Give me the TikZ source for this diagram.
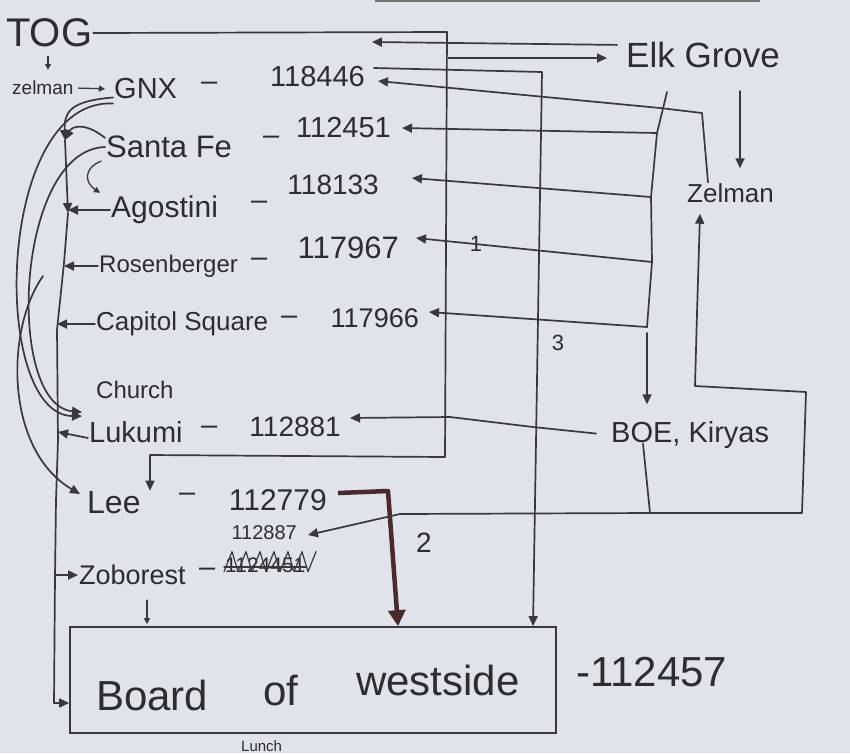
\documentclass[tikz,border=0pt]{standalone}
\usepackage{fontspec}
\setmainfont{Liberation Sans}
\usetikzlibrary{arrows.meta}
\definecolor{paper}{HTML}{E0E3E9}
\definecolor{ink}{HTML}{38383D}
\definecolor{penink}{HTML}{2C2C31}
\definecolor{brownink}{HTML}{4A2A2C}
\newcommand\pensize[1]{\fontsize{#1pt}{#1pt}\selectfont}
\begin{document}
\begin{tikzpicture}[x=1pt,y=-1pt,
  every node/.style={text=penink, inner sep=1pt},
  txt/.style={anchor=west},
  num/.style={anchor=east},
  wire/.style={draw=ink, line width=1.7pt, line join=round, line cap=round},
  arr/.style={wire, -{Triangle[length=10pt,width=9pt]}},
  smallarr/.style={wire, line width=1.3pt, -{Triangle[length=6pt,width=6pt]}},
  twoway/.style={wire, {Triangle[length=10pt,width=9pt]}-{Triangle[length=10pt,width=9pt]}},
  heavy/.style={draw=brownink, line width=4.5pt, line join=round, -{Triangle[length=16pt,width=17pt]}},
  boardbox/.style={draw=ink, line width=1.7pt, minimum width=486pt, minimum height=106pt, inner sep=0pt}]

% paper
\fill[paper] (0,0) rectangle (850,753);
\useasboundingbox (0,0) rectangle (850,753);
\fill[black!55] (375,0) rectangle (760,1.5);

% ---------- labels ----------
\node[txt, font=\pensize{40}] (tog) at (5,33) {TOG};
\node[txt, font=\pensize{19}] (zelA) at (11,88) {zelman};
\node[txt, font=\pensize{29}] (gnx) at (113,89) {GNX};
\node[txt, font=\pensize{29}] (d1) at (200,86) {–};
\node[num, font=\pensize{29}] (n118446) at (366,77) {118446};

\node[txt, font=\pensize{31}] (santafe) at (105,147) {Santa Fe};
\node[txt, font=\pensize{29}] (d2) at (262,140) {–};
\node[num, font=\pensize{29}] (n112451) at (392,128) {112451};

\node[txt, font=\pensize{30}] (agostini) at (110,210) {Agostini};
\node[txt, font=\pensize{29}] (d3) at (250,205) {–};
\node[num, font=\pensize{28}] (n118133) at (380,185) {118133};

\node[txt, font=\pensize{24}] (rosen) at (98,266) {Rosenberger};
\node[txt, font=\pensize{29}] (d4) at (250,262) {–};
\node[num, font=\pensize{31}] (n117967) at (400,248) {117967};

\node[txt, font=\pensize{26}] (capitol) at (95,324) {Capitol Square};
\node[txt, font=\pensize{29}] (d5) at (280,320) {–};
\node[num, font=\pensize{27}] (n117966) at (420,318) {117966};

\node[txt, font=\pensize{24}] (church) at (95,390) {Church};
\node[txt, font=\pensize{29}] (lukumi) at (88,432) {Lukumi};
\node[txt, font=\pensize{29}] (d6) at (200,430) {–};
\node[num, font=\pensize{28}] (n112881) at (342,427) {112881};

\node[txt, font=\pensize{32}] (lee) at (86,503) {Lee};
\node[txt, font=\pensize{29}] (d7) at (178,497) {–};
\node[num, font=\pensize{30}] (n112779) at (328,500) {112779};
\node[num, font=\pensize{20}] (n112887) at (298,533) {112887};

\node[txt, font=\pensize{27}] (zoborest) at (78,575) {Zoborest};
\node[txt, font=\pensize{29}] (d8) at (198,572) {–};
\node[txt, font=\pensize{21}] (struck) at (224,565) {1124451};

\node[boardbox] (board) at (313,680) {};
\node[txt, font=\pensize{42}] (wBoard) at (95,695) {Board};
\node[txt, font=\pensize{42}] (wOf) at (262,690) {of};
\node[txt, font=\pensize{42}] (wWest) at (355,680) {westside};
\node[txt, font=\pensize{42}] (price) at (575,672) {-112457};

\node[txt, font=\pensize{35}] (elk) at (625,55) {Elk Grove};
\node[txt, font=\pensize{26}] (zelB) at (686,193) {Zelman};
\node[txt, font=\pensize{29}] (boe) at (610,435) {BOE, Kiryas};

\node[font=\pensize{22}] (three) at (558,343) {3};
\node[font=\pensize{28}] (two) at (424,543) {2};
\node[font=\pensize{22}] (one) at (476,244) {1};
\node[anchor=base west, font=\pensize{15}] (lunch) at (240,751) {Lunch};

% ---------- helper points ----------
\coordinate (tA) at (447,32);
\coordinate (tB) at (445,457);
\coordinate (tC) at (150,455);
\coordinate (tE) at (448,58);
\coordinate (eTip) at (372,42);
\coordinate (b1) at (542,72);
\coordinate (b3) at (533,0);
\coordinate (z1) at (702,113);
\coordinate (z2) at (660,108);
\coordinate (r0) at (667,92);
\coordinate (r1) at (657,133);
\coordinate (r2) at (651,197);
\coordinate (r3) at (652,262);
\coordinate (r4) at (647,327);
\coordinate (ez) at (740,0);
\coordinate (q1) at (400,514);
\coordinate (q2) at (650,513);
\coordinate (q3) at (802,513);
\coordinate (q4) at (806,392);
\coordinate (q5) at (695,386);
\coordinate (q6) at (697,313);
\coordinate (h1) at (388,491);
\coordinate (h2) at (398,0);
\coordinate (k2) at (65,140);
\coordinate (k3) at (68,213);
\coordinate (k4) at (64,263);
\coordinate (k5) at (57,330);
\coordinate (k6) at (58,440);
\coordinate (k7) at (56,500);
\coordinate (k8) at (55,577);
\coordinate (k9) at (54,703);
\coordinate (rs) at (43,276);
\coordinate (tg) at (48,0);
\coordinate (zb) at (147,0);

% ---------- connectors, right side ----------
% TOG across the top and down to Lee
\draw[arr] (tog.east) -- (tA) -- (tB) -- (tC) -- (tC |- lee.north);
% branch of the TOG line to Elk Grove
\draw[arr, shorten >=18pt] (tE) -- (tE -| elk.west);
% Elk Grove back to 118446
\draw[arr, shorten <=8pt] ([yshift=10pt]elk.west) -- (eTip);
% 118446 down to the board (3)
\draw[arr] ([xshift=8pt,yshift=9pt]n118446.east) -- (b1) -- (b3 |- board.north);
% Zelman to 118446
\draw[arr] ([xshift=22pt]zelB.north west) -- (z1) -- (z2) -- ([xshift=12pt,yshift=-4pt]n118446.east);
% Elk Grove feeder on the right
\draw[wire] (r0) -- (r1) -- (r2) -- (r3) -- (r4);
\draw[arr] (r1) -- ([xshift=10pt]n112451.east);
\draw[arr] (r2) -- ([xshift=32pt,yshift=7pt]n118133.east);
\draw[arr] (r3) -- ([xshift=16pt,yshift=10pt]n117967.east);
\draw[arr] (r4) -- ([xshift=9pt,yshift=6pt]n117966.east);
\draw[arr, shorten <=6pt, shorten >=16pt] (r4) -- (r4 |- boe.north);
% Elk Grove down to Zelman
\draw[arr, shorten <=22pt, shorten >=14pt] (ez |- elk.south) -- (ez |- zelB.north);
% BOE, Kiryas to 112881
\draw[arr, shorten <=14pt] (boe.west) -- (533,427) -- (450,417) -- ([xshift=8pt,yshift=9pt]n112881.east);
% loop between 112887 and Zelman, joined from BOE, Kiryas
\draw[twoway] ([xshift=10pt,yshift=-2pt]n112887.east) -- (q1) -- (q2) -- (q3) -- (q4) -- (q5) -- (q6) -- ([xshift=14pt,yshift=-10pt]zelB.south west);
\draw[wire] ([xshift=33pt,yshift=6pt]boe.south west) -- (q2);
% Lee to the board (2)
\draw[heavy] ([xshift=10pt,yshift=7pt]n112779.east) -- (h1) -- (h2 |- board.north);

% ---------- connectors, left side ----------
\draw[smallarr, shorten <=8pt, shorten >=10pt] (tg |- tog.south) -- (tg |- zelA.north);
\draw[smallarr, shorten <=4pt, shorten >=8pt] (zelA.east) -- (gnx.west);
% GNX trunk down the left edge
\draw[arr] ([yshift=3pt]gnx.south west) .. controls (70,101) and (64,112) .. (k2);
\draw[arr] (k2) -- (k3);
\draw[wire] (k3) -- (k4) -- (k5) -- (k6) -- (k7) -- (k8) -- (k9);
\draw[arr] (k9) -- (k9 -| board.west);
\draw[arr] (agostini.west) -- (k3 |- agostini.west);
\draw[arr] (rosen.west) -- (k4 |- rosen.west);
\draw[arr] (capitol.west) -- (k5 |- capitol.west);
\draw[arr] ([yshift=-6pt]lukumi.west) -- (k6 |- lukumi.west);
\draw[arr] (k8 |- zoborest.west) -- (zoborest.west);
\draw[smallarr, shorten <=14pt, shorten >=2pt] (zb |- zoborest.south) -- (zb |- board.north);
% Santa Fe into the trunk and on to Agostini
\draw[arr] ([yshift=-3pt]santafe.north west) .. controls (85,122) and (72,126) .. (k2);
\draw[smallarr] ([xshift=-4pt,yshift=-2pt]santafe.south west) .. controls (84,168) and (84,182) .. ([xshift=-10pt,yshift=2pt]agostini.north west);
% long curves down to Lukumi and Lee
\draw[arr] ([yshift=-3pt]gnx.south west) .. controls (-5,98) and (-10,415) .. ([xshift=-6pt,yshift=4pt]lukumi.north west);
\draw[arr] (santafe.west) .. controls (15,150) and (5,405) .. ([xshift=-6pt,yshift=8pt]lukumi.north west);
\draw[arr] (rs) .. controls (5,330) and (5,450) .. ([xshift=-6pt,yshift=9pt]lee.west);

% scribble over the crossed-out number
\draw[wire, line width=1.2pt] ([yshift=2pt]struck.south west) -- ++(8,-20) -- ++(6,20) -- ++(8,-20) -- ++(6,20) -- ++(8,-20) -- ++(6,20) -- ++(8,-20) -- ++(6,20) -- ++(8,-20) -- ++(6,20) -- ++(8,-20) -- ++(6,20) -- ++(8,-20);
\draw[wire, line width=1.2pt] ([yshift=-2pt]struck.west) -- ([yshift=-2pt]struck.east);
\end{tikzpicture}
\end{document}
